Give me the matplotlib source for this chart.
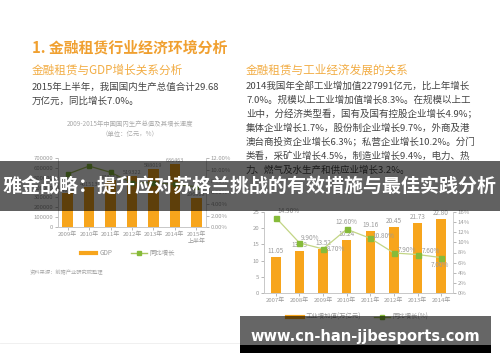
import matplotlib
matplotlib.use("Agg")
import matplotlib.pyplot as plt
from matplotlib.patches import Rectangle
from matplotlib.lines import Line2D

plt.rcParams['font.family'] = ['Noto Sans CJK SC', 'DejaVu Sans']

# left chart data
gdp_years = ['2009年', '2010年', '2011年', '2012年', '2013年', '2014年', '2015年\n上半年']
gdp_values = [340903, 401513, 473104, 519322, 588019, 636463, 296868]
gdp_growth = [9.2, 10.6, 9.5, 7.7, 7.7, 7.4, 7.0]
gdp_yticks = [0, 100000, 200000, 300000, 400000, 500000, 600000, 700000]
gdp_rticks = [0, 2, 4, 6, 8, 10, 12]

# right chart data
ind_years = ['2007年', '2008年', '2009年', '2010年', '2011年', '2012年', '2013年', '2014年']
ind_values = [11.05, 13.03, 13.52, 16.24, 19.16, 20.45, 21.73, 22.80]
ind_growth = [14.9, 9.9, 8.7, 12.6, 10.8, 7.9, 7.6, 7.0]
ind_yticks = [0, 5, 10, 15, 20, 25]
ind_rticks = [0, 2, 4, 6, 8, 10, 12, 14, 16]

W, H = 500, 362
ORANGE = '#f7a51c'
TITLE = '#f0a030'
GREEN_L = '#a9c65c'
GREEN_M = '#86bb3a'
GRAY = '#9a9a9a'
TEXT = '#454545'


def fx(x):
    return x / W


def fy(y):
    return 1 - y / H


def rect(x0, y0, x1, y1):
    return [x0 / W, 1 - y1 / H, (x1 - x0) / W, (y1 - y0) / H]


fig = plt.figure(figsize=(5, 3.62), dpi=100)
fig.patch.set_facecolor('white')

# texts
fig.text(fx(32), fy(47), '1. 金融租赁行业经济环境分析', color=TITLE, fontsize=10.7, fontweight='bold', va='center')
fig.text(fx(32), fy(70), '金融租赁与GDP增长关系分析', color='#f2ad45', fontsize=8.4, va='center')
fig.text(fx(32), fy(87), '2015年上半年，我国国内生产总值合计29.68', color=TEXT, fontsize=6.85, va='center')
fig.text(fx(32), fy(101), '万亿元，同比增长7.0%。', color=TEXT, fontsize=6.85, va='center')
fig.text(fx(130), fy(124), '2009-2015年中国国内生产总值及其增长速度', color='#aaaaaa', fontsize=4.6, va='center', ha='center')
fig.text(fx(130), fy(134), '（单位：亿元，%）', color='#aaaaaa', fontsize=4.6, va='center', ha='center')
fig.text(fx(30), fy(272), '资料来源：前瞻产业研究院整理', color='#aaaaaa', fontsize=3.8, va='center')

fig.text(fx(246), fy(70), '金融租赁与工业经济发展的关系', color='#f2ad45', fontsize=8.4, va='center')
right_lines = [
    '2014我国年全部工业增加值227991亿元，比上年增长',
    '7.0%。规模以上工业增加值增长8.3%。在规模以上工',
    '业中，分经济类型看，国有及国有控股企业增长4.9%；',
    '集体企业增长1.7%，股份制企业增长9.7%，外商及港',
    '澳台商投资企业增长6.3%；私营企业增长10.2%。分门',
    '类看，采矿业增长4.5%，制造业增长9.4%，电力、热',
    '力、燃气及水生产和供应业增长3.2%。',
]
for i, line in enumerate(right_lines):
    fig.text(fx(246), fy(86 + 14 * i), line, color=TEXT, fontsize=6.85, va='center')

# left chart
ax1 = fig.add_axes(rect(58, 158, 206, 227))
x1 = list(range(len(gdp_years)))
ax1.bar(x1, gdp_values, width=0.5, color=ORANGE, zorder=2)
for xi, v in zip(x1, gdp_values):
    ax1.text(xi, v + 8000, str(v), ha='center', va='bottom', fontsize=4, color=GRAY)
ax1.set_ylim(0, 700000)
ax1.set_xlim(-0.45, 6.45)
ax1.set_yticks(gdp_yticks)
ax1.set_yticklabels([str(t) for t in gdp_yticks])
ax1.set_xticks(x1)
ax1.set_xticklabels(gdp_years)
ax1r = ax1.twinx()
ax1r.plot(x1, gdp_growth, color=GREEN_L, lw=0.9, marker='s', ms=3.2, mfc=GREEN_M, mec=GREEN_M, zorder=3)
ax1r.set_ylim(0, 12)
ax1r.set_yticks(gdp_rticks)
ax1r.set_yticklabels(['%.2f%%' % t for t in gdp_rticks])

# right chart
ax2 = fig.add_axes(rect(264, 212, 453, 293))
x2 = list(range(len(ind_years)))
ax2.bar(x2, ind_values, width=0.4, color=ORANGE, zorder=2)
for xi, v in zip(x2, ind_values):
    ax2.text(xi, v + 0.6, '%.2f' % v, ha='center', va='bottom', fontsize=4.6, color=GRAY)
ax2.set_ylim(0, 25)
ax2.set_xlim(-0.5, 7.5)
ax2.set_yticks(ind_yticks)
ax2.set_xticks(x2)
ax2.set_xticklabels(ind_years)
ax2r = ax2.twinx()
ax2r.plot(x2, ind_growth, color='#c2d585', lw=0.9, marker='s', ms=3.6, mfc=GREEN_M, mec=GREEN_M, zorder=3)
ax2r.set_ylim(0, 16)
ax2r.set_yticks(ind_rticks)
ax2r.set_yticklabels(['%d%%' % t for t in ind_rticks])
offsets = [(0.55, 1.3), (0.45, 0.9), (0.55, 0.0), (0.0, 1.4), (0.55, 0.5), (0.55, 0.6), (0.55, 0.6), (-0.05, -1.4)]
for xi, g, (dx, dy) in zip(x2, ind_growth, offsets):
    ax2r.text(xi + dx, g + dy, '%.2f%%' % g, ha='center', va='center', fontsize=4.6, color=GRAY, zorder=4)

for a in (ax1, ax1r, ax2, ax2r):
    a.set_facecolor('none')
    a.spines['top'].set_visible(False)
    for s in ('left', 'right', 'bottom'):
        a.spines[s].set_color('#c8c8c8')
        a.spines[s].set_linewidth(0.6)
    a.tick_params(labelsize=4.3, colors=GRAY, length=2, width=0.5, pad=1.5)
ax1.spines['right'].set_visible(False)
ax2.spines['right'].set_visible(False)

# legends
h1 = [Line2D([], [], color=ORANGE, lw=3),
      Line2D([], [], color=GREEN_L, lw=1, marker='s', ms=3, mfc=GREEN_M, mec=GREEN_M)]
fig.legend(h1, ['GDP', '同比增长'], loc='center', bbox_to_anchor=(fx(128), fy(253)), ncol=2,
           frameon=False, fontsize=4.6, labelcolor=GRAY, handlelength=2.4, columnspacing=3, handletextpad=0.5)
fig.legend(h1, ['工业增加值(万亿元)', '同比增长(%)'], loc='center', bbox_to_anchor=(fx(358), fy(317)), ncol=2,
           frameon=False, fontsize=4.6, labelcolor=GRAY, handlelength=2.4, columnspacing=2, handletextpad=0.5)

# faint separator
fig.add_artist(Line2D([0, fx(240)], [fy(343), fy(343)], color='#eeeeee', lw=0.6))

# overlay banner
fig.add_artist(Rectangle((0, fy(211)), 1, (211 - 161) / H, transform=fig.transFigure,
                         facecolor='black', alpha=0.62, edgecolor='none', zorder=10))
fig.text(0.5, fy(186), '雅金战略：提升应对苏格兰挑战的有效措施与最佳实践分析', color='white',
         fontsize=13.7, fontweight='bold', ha='center', va='center', zorder=11)

# bottom website banner
fig.add_artist(Rectangle((fx(240), fy(345)), (491 - 240) / W, (345 - 316) / H, transform=fig.transFigure,
                         facecolor='black', alpha=0.6, edgecolor='none', zorder=10))
fig.add_artist(Rectangle((fx(240), fy(353)), (491 - 240) / W, (353 - 345) / H, transform=fig.transFigure,
                         facecolor='black', edgecolor='none', zorder=10))
fig.text(fx(365), fy(337), 'www.cn-han-jjbesports.com', color='white', family='DejaVu Sans',
         fontsize=10.5, fontweight='bold', ha='center', va='center', zorder=11)

fig.savefig('out.png', dpi=100, facecolor='white')
